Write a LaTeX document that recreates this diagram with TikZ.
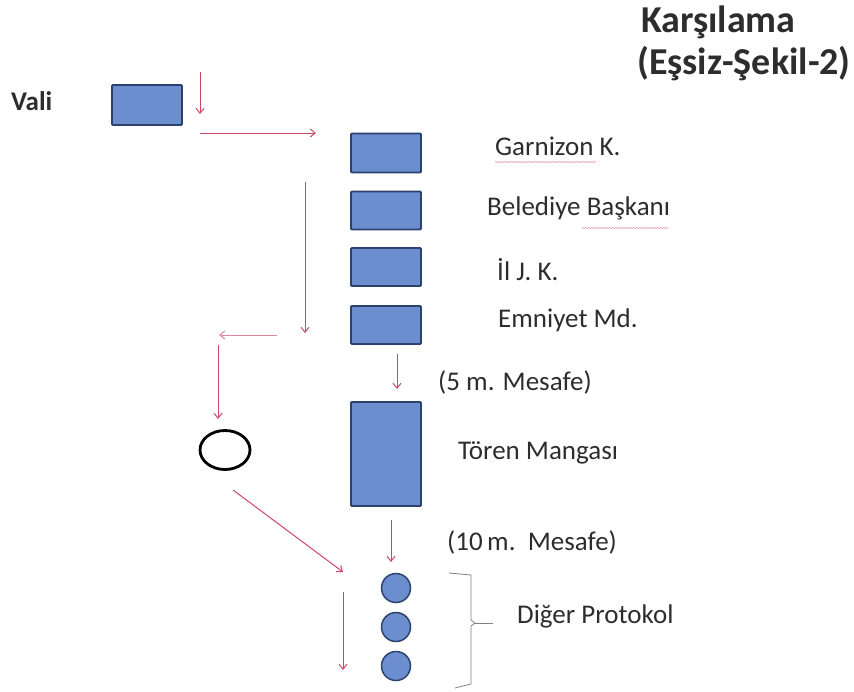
\documentclass[tikz,border=0pt]{standalone}
\usepackage{fontspec}
\setmainfont{Carlito}
\usetikzlibrary{arrows.meta,decorations.pathmorphing,shapes.geometric}
\definecolor{boxfill}{RGB}{108,142,206}
\definecolor{boxline}{RGB}{44,66,110}
\definecolor{arr}{RGB}{206,70,100}
\definecolor{txt}{RGB}{45,45,45}
\tikzset{
  bx/.style={draw=boxline,line width=1.8pt,fill=boxfill,minimum width=70pt,minimum height=38pt,inner sep=0pt,rounded corners=1pt},
  ci/.style={circle,draw=boxline,line width=1.5pt,fill=boxfill,minimum size=29pt,inner sep=0pt},
  ar/.style={draw=arr,line width=1pt,-{Straight Barb[length=5pt,width=8pt]}},
  lb/.style={font=\fontsize{27}{32}\selectfont,text=txt,anchor=base west,inner sep=0pt},
  ttl/.style={font=\bfseries\fontsize{38}{44}\selectfont,text=txt,anchor=base west,inner sep=0pt},
  squig/.style={draw=arr!45,line width=0.7pt,decorate,decoration={snake,amplitude=0.7pt,segment length=3pt}},
}
\begin{document}
\begin{tikzpicture}[x=1pt,y=-1pt]
\useasboundingbox (0,0) rectangle (854,691);
\node[ttl] (title1) at (641,32) {Karşılama};
\node[ttl] (title2) at (637,74) {(Eşsiz-Şekil-2)};
\node[lb,font=\bfseries\fontsize{27}{32}\selectfont] (valit) at (11,110) {Vali};
\node[bx,minimum height=40pt] (vali) at (147,105) {};
\coordinate (a1s) at (200,72); \coordinate (a1e) at (200,114);
\draw[ar] (a1s) -- (a1e);
\coordinate (a2s) at (200,133); \coordinate (a2e) at (316,133);
\draw[ar] (a2s) -- (a2e);
\node[bx,minimum height=39pt] (garn) at (386,153) {};
\node[bx,minimum height=38pt] (bel) at (386,210.5) {};
\node[bx,minimum height=38pt] (ilj) at (386,267) {};
\node[bx,minimum height=38pt] (emn) at (386,325) {};
\node[lb] (garnt) at (495,155) {Garnizon K.};
\node[lb] (belt) at (487,215) {Belediye Başkanı};
\node[lb] (iljt) at (497,280) {İl J. K.};
\node[lb] (emnt) at (498,327) {Emniyet Md.};
\coordinate (u1s) at (495,162); \coordinate (u1e) at (596,162);
\draw[squig] (u1s) -- (u1e);
\coordinate (u2s) at (582,228); \coordinate (u2e) at (668,228);
\draw[squig] (u2s) -- (u2e);
\coordinate (a3s) at (305,182); \coordinate (a3e) at (305,333);
\draw[ar] (a3s) -- (a3e);
\coordinate (a4s) at (277,335); \coordinate (a4e) at (219,335);
\draw[ar,draw=arr!65] (a4s) -- (a4e);
\coordinate (a5s) at (218,345); \coordinate (a5e) at (218,419);
\draw[ar] (a5s) -- (a5e);
\node[ellipse,draw=black,line width=2.8pt,minimum width=50pt,minimum height=39pt,inner sep=0pt] (el) at (225,450) {};
\coordinate (a6s) at (233,490); \coordinate (a6e) at (343,572);
\draw[ar] (a6s) -- (a6e);
\coordinate (a7s) at (397,354); \coordinate (a7e) at (397,389);
\draw[ar] (a7s) -- (a7e);
\node[lb] (m5) at (438,390) {(5 m. Mesafe)};
\node[bx,minimum height=104pt] (toren) at (386,454) {};
\node[lb] (torent) at (458,459) {Tören Mangası};
\coordinate (a8s) at (391,520); \coordinate (a8e) at (391,562);
\draw[ar] (a8s) -- (a8e);
\node[lb] (m10) at (447,550) {(10\,m.\ \ Mesafe)};
\node[ci] (c1) at (396,588) {};
\node[ci] (c2) at (396,627) {};
\node[ci] (c3) at (396,666) {};
\coordinate (bt) at (449,573); \coordinate (bb) at (455,688);
\coordinate (bm) at (475,623); \coordinate (bms) at (493,623);
\draw[gray,line width=0.8pt,line join=round] (bt) -- (471,575) -- (471,620) -- (bm) -- (471,626) -- (471,684) -- (bb);
\draw[gray,line width=0.7pt] (bms) -- (bm);
\node[lb] (dig) at (517,623) {Diğer Protokol};
\coordinate (a9s) at (343,592); \coordinate (a9e) at (343,670);
\draw[ar] (a9s) -- (a9e);
\end{tikzpicture}
\end{document}
